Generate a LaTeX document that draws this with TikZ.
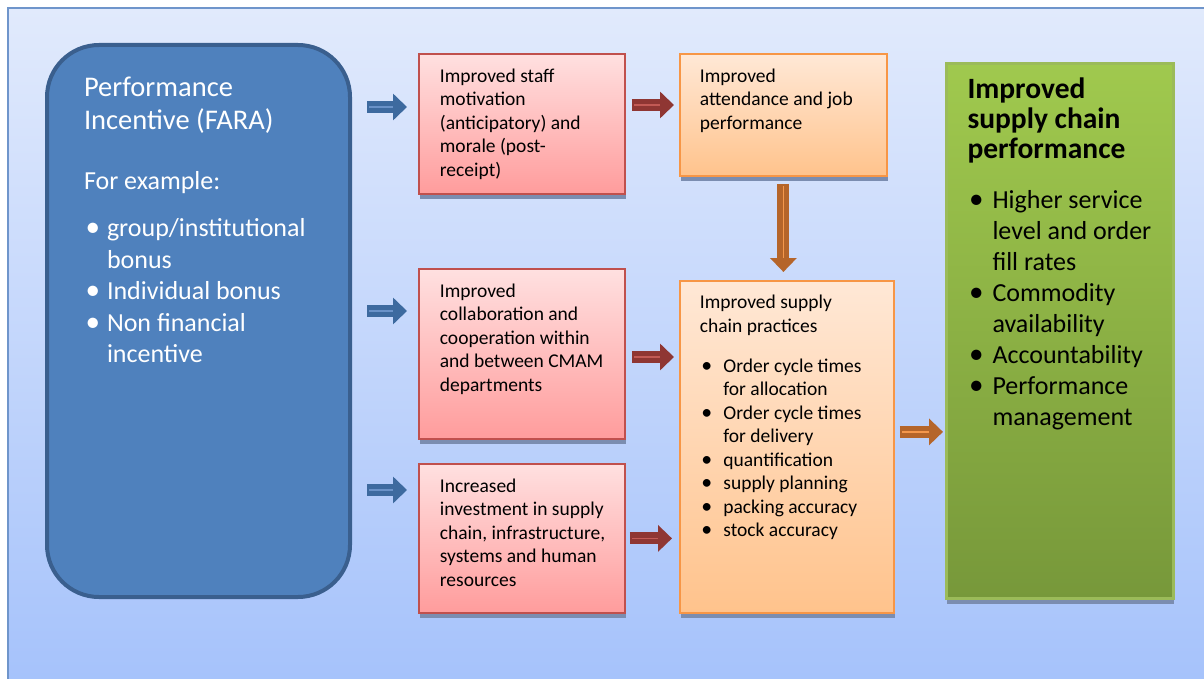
\documentclass[tikz,border=0pt]{standalone}
\usepackage{fontspec}
\setmainfont{Carlito}
\usetikzlibrary{arrows.meta,shadows}
\definecolor{frametop}{HTML}{E1EAFC}
\definecolor{framebot}{HTML}{A5C2FB}
\definecolor{frameline}{HTML}{6F95CB}
\definecolor{incfill}{HTML}{4F81BD}
\definecolor{incline}{HTML}{3A5F8E}
\definecolor{redtop}{HTML}{FFE0E0}
\definecolor{redbot}{HTML}{FF9C9C}
\definecolor{redline}{HTML}{C0504D}
\definecolor{ortop}{HTML}{FFE8D6}
\definecolor{orbot}{HTML}{FFC38C}
\definecolor{orline}{HTML}{F79646}
\definecolor{grtop}{HTML}{A0C94E}
\definecolor{grbot}{HTML}{77983A}
\definecolor{grline}{HTML}{9BBB59}
\definecolor{shad}{HTML}{7B8DB0}
\definecolor{barr}{HTML}{3D6A9F}
\definecolor{barrl}{HTML}{6A92C8}
\definecolor{rarr}{HTML}{8F3633}
\definecolor{rarrl}{HTML}{C25A55}
\definecolor{oarr}{HTML}{B5652A}
\definecolor{oarrl}{HTML}{F4974C}
% box text: [left margin]{width}{height}{text}
\newcommand{\boxtxt}[4][21pt]{\parbox[t][#3][t]{#2}{\raggedright\leftskip=#1 #4}}
\newcommand{\bitem}[2]{\par\hangindent=#1\hangafter=1\noindent\makebox[#1][l]{\hspace{1.5pt}\scalebox{1.12}{\textbullet}}#2}

\begin{document}
\begin{tikzpicture}[x=1pt,y=-1pt]
    \tikzstyle{sm}=[font=\fontsize{19.5}{23.5}\selectfont]
    \tikzstyle{b}=[anchor=north west,inner sep=0pt,draw=redline,line width=1.8pt,top color=redtop,bottom color=redbot,drop shadow={shadow xshift=1pt,shadow yshift=-5pt,fill=shad,opacity=1},sm]
    \tikzstyle{o}=[anchor=north west,inner sep=0pt,draw=orline,line width=1.8pt,top color=ortop,bottom color=orbot,drop shadow={shadow xshift=1pt,shadow yshift=-5pt,fill=shad,opacity=1},sm]
    \tikzstyle{g}=[anchor=north west,inner sep=0pt,draw=grline,line width=3pt,top color=grtop,bottom color=grbot,drop shadow={shadow xshift=0pt,shadow yshift=-5pt,fill=shad,opacity=1}]
    \tikzstyle{ba}=[line width=12pt,-{Triangle[length=14pt,width=26pt]}]
    \tikzstyle{hl}=[line width=1.5pt]
    \useasboundingbox (0,0) rectangle (1204,679);
    \draw[frameline,line width=1.5pt,top color=frametop,bottom color=framebot] (8,8) rectangle (1214,690);
    \node[anchor=north west,inner sep=0pt,draw=incline,line width=4pt,fill=incfill,rounded corners=52pt,text=white] (fara) at (45,43)
      {\boxtxt[37pt]{303pt}{552pt}{\fontsize{28.5}{33}\selectfont\rule{0pt}{52pt}Performance\\ Incentive (FARA)\par
       \fontsize{26}{31.5}\selectfont\vspace{28.5pt}For example:\par\vspace{15.5pt}
       \bitem{23pt}{group/institutional\newline bonus}\bitem{23pt}{Individual bonus}\bitem{23pt}{Non financial\newline incentive}}};
    \node[b] (mot) at (418,53) {\boxtxt{206pt}{140pt}{\rule{0pt}{28.5pt}Improved staff\\ motivation\\ (anticipatory) and\\ morale (post-\\ receipt)}};
    \node[b] (col) at (418,268) {\boxtxt{206pt}{170pt}{\rule{0pt}{28.5pt}Improved\\ collaboration and\\ cooperation within\\ and between CMAM\\ departments}};
    \node[b] (inv) at (418,463) {\boxtxt{206pt}{149pt}{\rule{0pt}{28.5pt}Increased\\ investment in supply\\ chain, infrastructure,\\ systems and human\\ resources}};
    \node[o] (att) at (679,53) {\boxtxt[20pt]{207pt}{122pt}{\rule{0pt}{28.5pt}Improved\\ attendance and job\\ performance}};
    \node[o] (prac) at (679,280) {\boxtxt[20pt]{214pt}{332pt}{\rule{0pt}{28pt}Improved supply\\ chain practices\par\vspace{16.5pt}
       \bitem{23.5pt}{Order cycle times\newline for allocation}\bitem{23.5pt}{Order cycle times\newline for delivery}\bitem{23.5pt}{quantification}\bitem{23.5pt}{supply planning}\bitem{23.5pt}{packing accuracy}\bitem{23.5pt}{stock accuracy}}};
    \node[g] (perf) at (945,62) {\boxtxt{227pt}{535pt}{{\fontsize{29.5}{30}\selectfont\bfseries\rule{0pt}{35pt}Improved\\ supply chain\\ performance\par}
       \fontsize{26}{31}\selectfont\vspace{19pt}
       \bitem{25pt}{Higher service\newline level and order\newline fill rates}\bitem{25pt}{Commodity\newline availability}\bitem{25pt}{Accountability}\bitem{25pt}{Performance\newline management}}};
    % incentive -> first level
    \foreach \n/\dy in {mot/54,col/43,inv/27} {
      \draw[ba,barr,shorten <=15pt,shorten >=11pt] ([yshift=-\dy pt]\n.north west -| fara.east) -- ([yshift=-\dy pt]\n.north west);
      \draw[hl,barrl,shorten <=17pt,shorten >=25pt] ([yshift=-\dy pt]\n.north west -| fara.east) -- ([yshift=-\dy pt]\n.north west);
    }
    % first level -> second level
    \draw[ba,rarr,shorten <=6pt,shorten >=5pt] ([yshift=-52pt]mot.north east) -- ([yshift=-52pt]mot.north east -| att.west);
    \draw[hl,rarrl,shorten <=8pt,shorten >=19pt] ([yshift=-52pt]mot.north east) -- ([yshift=-52pt]mot.north east -| att.west);
    \draw[ba,rarr,shorten <=6pt,shorten >=5pt] ([yshift=-89pt]col.north east) -- ([yshift=-89pt]col.north east -| prac.west);
    \draw[hl,rarrl,shorten <=8pt,shorten >=19pt] ([yshift=-89pt]col.north east) -- ([yshift=-89pt]col.north east -| prac.west);
    \draw[ba,rarr,shorten <=4pt,shorten >=7pt] (inv.east) -- (inv.east -| prac.west);
    \draw[hl,rarrl,shorten <=6pt,shorten >=21pt] (inv.east) -- (inv.east -| prac.west);
    \draw[ba,oarr,shorten <=7pt,shorten >=8pt] (att.south) -- (att.south |- prac.north);
    \draw[hl,oarrl,shorten <=9pt,shorten >=22pt] (att.south) -- (att.south |- prac.north);
    \draw[ba,oarr,shorten <=5pt,shorten >=2pt] ([yshift=15pt]prac.east) -- ([yshift=15pt]prac.east -| perf.west);
    \draw[hl,oarrl,shorten <=7pt,shorten >=16pt] ([yshift=15pt]prac.east) -- ([yshift=15pt]prac.east -| perf.west);
  \end{tikzpicture}
\end{document}
